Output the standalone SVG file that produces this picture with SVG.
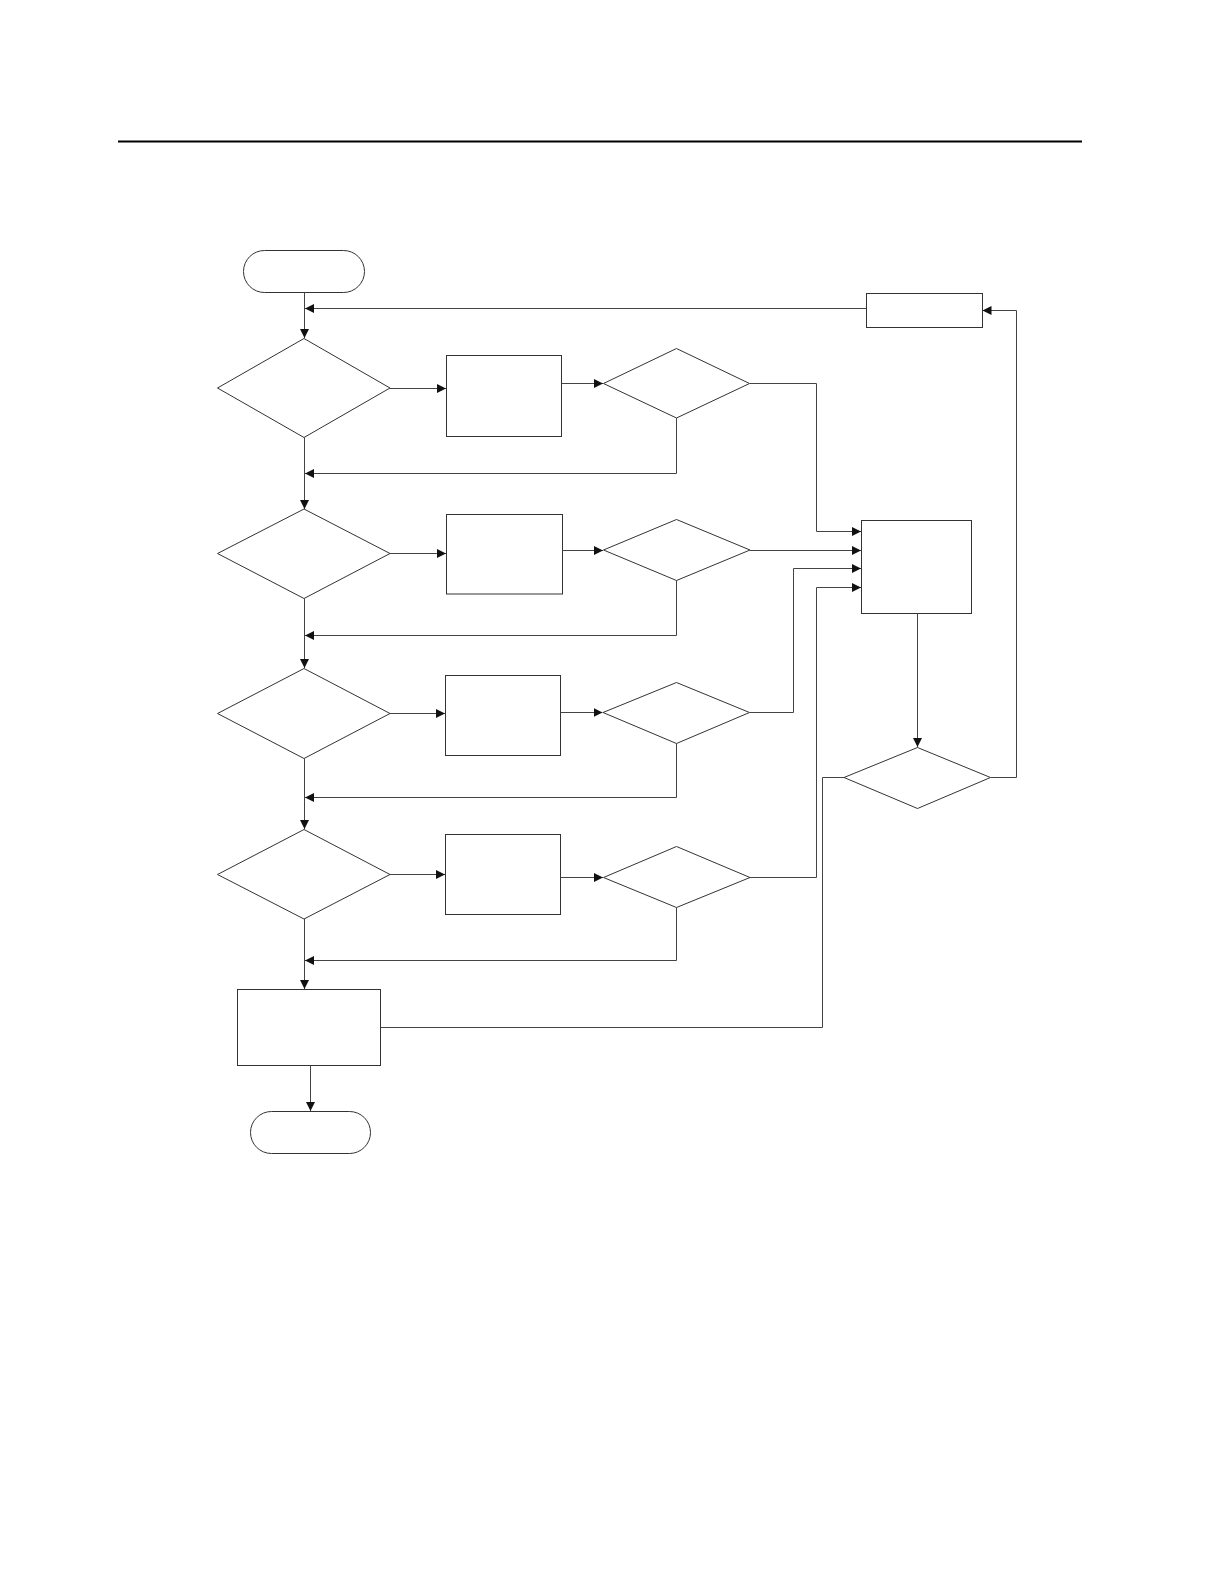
<svg xmlns="http://www.w3.org/2000/svg" width="1224" height="1584" viewBox="0 0 1224 1584">
<style>
.n{fill:#fff;stroke:#333;stroke-width:1}
.c{fill:none;stroke:#444;stroke-width:1}
.ca{fill:none;stroke:#444;stroke-width:1;marker-end:url(#ah)}
</style>
<defs>
<marker id="ah" markerUnits="userSpaceOnUse" markerWidth="10" markerHeight="10" viewBox="0 0 10 10" refX="9" refY="5" orient="auto">
<path d="M0,0.5 L9,5 L0,9.5 Z" fill="#111"/>
</marker>
</defs>
<rect width="1224" height="1584" fill="#fff"/>
<line x1="118" y1="141.5" x2="1082" y2="141.5" stroke="#000" stroke-width="2"/>
<g id="start"><rect class="n" x="243.5" y="250.5" width="121" height="42" rx="21"/></g>
<g id="d1"><polygon class="n" points="304,338.5 390,388 304,437.5 217.5,388"/></g>
<g id="b1"><rect class="n" x="446.5" y="355.5" width="115" height="81"/></g>
<g id="sd1"><polygon class="n" points="676.5,348.5 749.5,383.5 676.5,418 603.5,383.5"/></g>
<g id="d2"><polygon class="n" points="304,509 390,553.5 304,598.5 217.5,553.5"/></g>
<g id="b2"><rect class="n" x="446.5" y="514.5" width="116" height="79.5"/></g>
<g id="sd2"><polygon class="n" points="676.5,519.5 750,550 676.5,580.5 603.5,550"/></g>
<g id="d3"><polygon class="n" points="304,668.5 390,713.5 304,758.5 217.5,713.5"/></g>
<g id="b3"><rect class="n" x="445.5" y="675.5" width="115" height="80"/></g>
<g id="sd3"><polygon class="n" points="676.5,682.5 749.5,712.5 676.5,743.5 603,712.5"/></g>
<g id="d4"><polygon class="n" points="304,829.5 390,874.5 304,919 217.5,874.5"/></g>
<g id="b4"><rect class="n" x="445.5" y="834.5" width="115" height="80"/></g>
<g id="sd4"><polygon class="n" points="676.5,846.5 750,877.5 676.5,907.5 603.5,877.5"/></g>
<g id="bbox"><rect class="n" x="237.5" y="989.5" width="143" height="76"/></g>
<g id="end"><rect class="n" x="250.5" y="1111.5" width="120" height="42" rx="21"/></g>
<g id="topbox"><rect class="n" x="866.5" y="293.5" width="116" height="34"/></g>
<g id="bigbox"><rect class="n" x="861.5" y="520.5" width="110" height="93"/></g>
<g id="rd"><polygon class="n" points="917.5,747.5 990.5,777.5 917.5,808.5 844,777.5"/></g>
<g id="connectors">
<path class="ca" d="M304.5,292.5 V338"/>
<path class="ca" d="M866,308.5 H305"/>
<path class="ca" d="M390,388.5 H446"/>
<path class="ca" d="M562,383.5 H603"/>
<path class="ca" d="M749.5,383.5 H816.5 V531.5 H861"/>
<path class="ca" d="M676.5,418 V473.5 H305"/>
<path class="ca" d="M304.5,437.5 V509"/>
<path class="ca" d="M390,553.5 H446"/>
<path class="ca" d="M562.5,550.5 H603"/>
<path class="ca" d="M750,550.5 H861"/>
<path class="ca" d="M676.5,580.5 V635.5 H305"/>
<path class="ca" d="M304.5,598.5 V668"/>
<path class="ca" d="M390,713.5 H445"/>
<path class="ca" d="M560.5,712.5 H602.5"/>
<path class="ca" d="M749.5,712.5 H793.5 V568.5 H861"/>
<path class="ca" d="M676.5,743.5 V797.5 H305"/>
<path class="ca" d="M304.5,758.5 V829"/>
<path class="ca" d="M390,874.5 H445"/>
<path class="ca" d="M560.5,877.5 H603"/>
<path class="ca" d="M750,877.5 H816.5 V587.5 H861"/>
<path class="ca" d="M676.5,907.5 V960.5 H305"/>
<path class="ca" d="M304.5,919 V989"/>
<path class="ca" d="M310.5,1065.5 V1111"/>
<path class="c" d="M380.5,1027.5 H822.5 V777.5 H844"/>
<path class="ca" d="M917.5,613.5 V747"/>
<path class="ca" d="M990.5,777.5 H1016.5 V310.5 H982.5"/>
</g>
</svg>
